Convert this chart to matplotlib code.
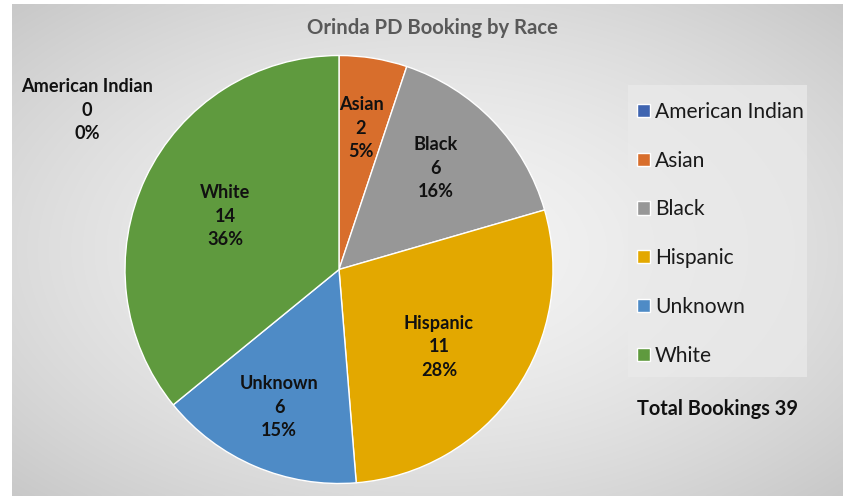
import matplotlib.pyplot as plt
from matplotlib.patches import Rectangle
import numpy as np

races = ["American Indian", "Asian", "Black", "Hispanic", "Unknown", "White"]
bookings = [0, 2, 6, 11, 6, 14]
percents = ["0%", "5%", "16%", "28%", "15%", "36%"]
colors = ["#3F64B0", "#D86E2C", "#979797", "#E3A800", "#4E8BC6", "#5F9A3E"]
total = 39

# where Excel's "best fit" put the data labels (pie units)
label_pos = [(-1.178, 0.745), (0.103, 0.661), (0.453, 0.474),
             (0.467, -0.362), (-0.28, -0.643), (-0.533, 0.25)]

plt.rcParams["font.family"] = ["Lato", "DejaVu Sans"]

W, H = 843, 496
fig = plt.figure(figsize=(W / 100, H / 100), dpi=100)
fig.patch.set_facecolor("white")

# background with a soft radial gradient
bg = fig.add_axes([12 / W, 0, (W - 12) / W, (H - 4) / H])
yy, xx = np.mgrid[-1:1:300j, -1:1:500j]
rr = np.sqrt(xx ** 2 + yy ** 2) / np.sqrt(2)
shade = 0.955 - 0.17 * rr ** 1.6
bg.imshow(np.dstack([shade] * 3), aspect="auto", extent=(0, 1, 0, 1), interpolation="bilinear")
bg.set_axis_off()

# pie: centre (339, 269.5) px, radius 214 px
cx, cy, r = 339, 269.5, 214
ax = fig.add_axes([(cx - r) / W, (H - cy - r) / H, 2 * r / W, 2 * r / H])
labels = [f"{n}\n{v}\n{p}" for n, v, p in zip(races, bookings, percents)]
wedges, texts = ax.pie(bookings, colors=colors, startangle=90, counterclock=False,
                       labels=labels, labeldistance=0.66,
                       wedgeprops=dict(edgecolor="white", linewidth=1),
                       textprops=dict(fontsize=13.1, fontweight="bold", color="#111111",
                                      ha="center", va="center", linespacing=1.45))
ax.set_xlim(-1, 1)
ax.set_ylim(-1, 1)
ax.set_axis_off()
for t, pos in zip(texts, label_pos):
    t.set_horizontalalignment("center")
    t.set_position(pos)

fig.text(432 / W, 1 - 28 / H, "Orinda PD Booking by Race", ha="center", va="center",
         fontsize=14.6, fontweight="bold", color="#595959")

# legend box
fig.patches.append(Rectangle((628 / W, 1 - 377 / H), (807 - 628) / W, (377 - 85) / H,
                             transform=fig.transFigure, facecolor="#EAEAEA", alpha=0.75,
                             edgecolor="none", zorder=1))
leg = fig.legend(wedges, races, loc="upper left", bbox_to_anchor=(637 / W, 1 - 102 / H),
                 borderaxespad=0, frameon=False, fontsize=15.1,
                 handlelength=0.6, handleheight=0.6, handletextpad=0.26,
                 labelspacing=1.37, borderpad=0)
for t in leg.get_texts():
    t.set_color("#1a1a1a")

fig.text(637 / W, 1 - 409 / H, f"Total Bookings {total}", ha="left", va="center",
         fontsize=14.3, fontweight="bold", color="#111111")

fig.savefig("out.png", dpi=100)
